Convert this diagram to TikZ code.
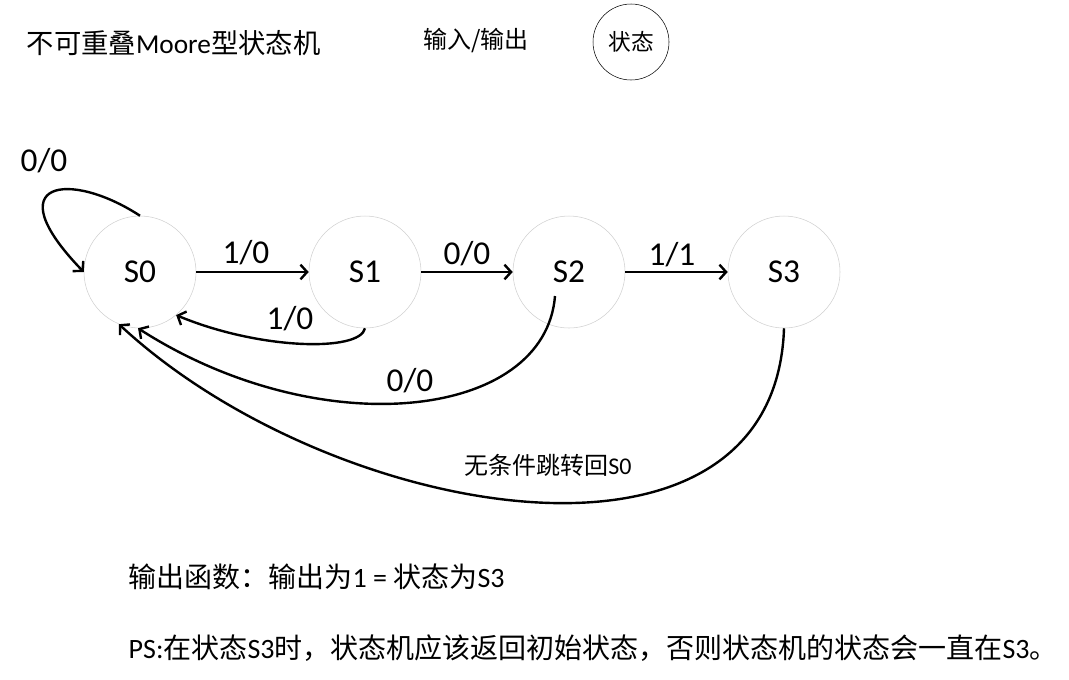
\documentclass[tikz,border=0pt]{standalone}
\usepackage{fontspec}
\setmainfont{Carlito}
\newfontfamily\zh{Noto Sans CJK SC}
\usetikzlibrary{arrows.meta,positioning}
\definecolor{RingGrey}{HTML}{CFCFCF}

\begin{document}
\begin{tikzpicture}[x=0.75pt,y=-0.75pt, every node/.style={font=\fontsize{15}{18}\selectfont}]
  \tikzset{
    state/.style={circle,draw=RingGrey,minimum size=84pt,inner sep=0pt,font=\fontsize{25}{30}\selectfont},
    trans/.style={line width=1.8pt,-{Straight Barb[length=5pt,width=11pt]}},
    lbl/.style={font=\fontsize{25}{30}\selectfont}
  }
  \useasboundingbox (0,0) rectangle (1069,679);
  % legend
  \node[anchor=west,font=\fontsize{20.5}{24}\selectfont] (title) at (22,43) {{\zh 不可重叠}Moore{\zh 型状态机}};
  \node[font=\fontsize{18}{22}\selectfont] (legend) at (476,41) {\zh 输入/输出};
  \node[circle,draw,thin,minimum size=57pt,inner sep=0pt,font=\fontsize{17}{20}\selectfont] (legendstate) at (631,42) {\zh 状态};
  % states
  \node[state] (s0) at (140,272) {S0};
  \node[state] (s1) at (365,272) {S1};
  \node[state] (s2) at (569,272) {S2};
  \node[state] (s3) at (784,272) {S3};
  % transitions
  \draw[trans] (s0.north) .. controls (70,170) and (-5,180) .. (s0.west);
  \draw[trans] (s0.east) -- (s1.west);
  \draw[trans] (s1.east) -- (s2.west);
  \draw[trans] (s2.east) -- (s3.west);
  \draw[trans] (s1.south) .. controls (360,352) and (260,350) .. (s0.-50);
  \draw[trans] ([shift={(-14,24)}]s2.center) .. controls (545,420) and (320,445) .. (s0.-92);
  \draw[trans] (s3.south) .. controls (775,600) and (330,520) .. (s0.-112);
  \node[lbl] (l00a) at (44,161) {0/0};
  \node[lbl] (l10a) at (246,253) {1/0};
  \node[lbl] (l00b) at (467,254) {0/0};
  \node[lbl] (l11) at (672,255) {1/1};
  \node[lbl] (l10b) at (290,319) {1/0};
  \node[lbl] (l00c) at (410,381) {0/0};
  \node[font=\fontsize{18}{22}\selectfont] (lfree) at (548,465) {{\zh 无条件跳转回}S0};
  % notes
  \node[anchor=west,font=\fontsize{21}{25}\selectfont] (note1) at (124,577) {{\zh 输出函数：输出为}1 = {\zh 状态为}S3};
  \node[anchor=west,font=\fontsize{21}{25}\selectfont] (note2) at (124,648) {PS:{\zh 在状态}S3{\zh 时，状态机应该返回初始状态，否则状态机的状态会一直在}S3{\zh 。}};
\end{tikzpicture}
\end{document}
